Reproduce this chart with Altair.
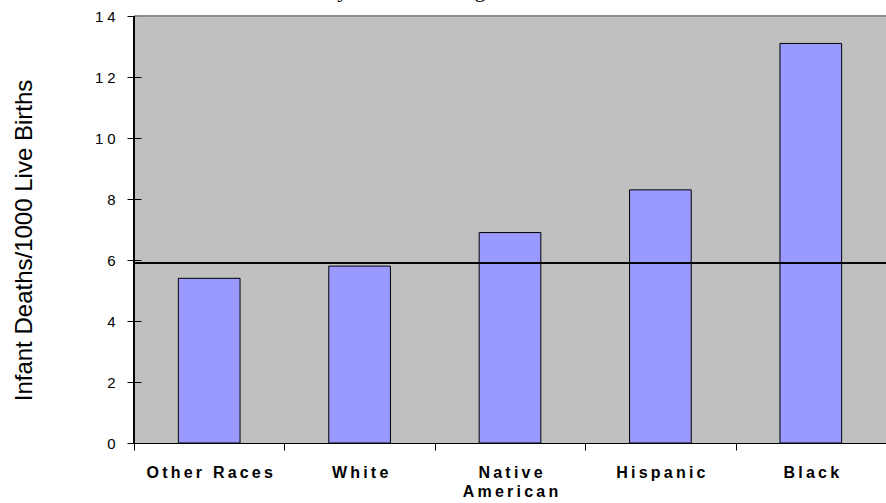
import json
import altair as alt
import pandas as pd

# Infant deaths per 1000 live births by race / ethnicity
categories = ["Other Races", "White", "Native American", "Hispanic", "Black"]
rates = [5.4, 5.8, 6.9, 8.3, 13.1]

# Reference level drawn across the whole plot
overall_rate = 5.9

y_ticks = [0, 2, 4, 6, 8, 10, 12, 14]
y_max = 14

# Category names shown on two lines
label_lines = {"Native American": ["Native", "American"]}

chart_title = "Infant Mortality Rate in Michigan"
y_title = "Infant Deaths/1000 Live Births"

THIN = "\u2009"
DIGIT_GAP = "\u2005"

df = pd.DataFrame({"group": categories, "rate": rates})
title_df = pd.DataFrame({"text": [chart_title]})


def spaced(text):
    return THIN.join(text)


def label_expr():
    expr = "datum.value"
    for name in reversed(categories):
        lines = label_lines.get(name, [name])
        shown = [spaced(s) for s in lines]
        value = json.dumps(shown if len(shown) > 1 else shown[0], ensure_ascii=False)
        expr = f"datum.value == {json.dumps(name)} ? {value} : ({expr})"
    return expr


W, H = 752, 427

x_enc = alt.X(
    "group:N",
    sort=categories,
    scale=alt.Scale(paddingInner=0, paddingOuter=0),
    axis=alt.Axis(
        title=None,
        labelAngle=0,
        labelExpr=label_expr(),
        labelFont="Liberation Sans",
        labelFontWeight="bold",
        labelFontSize=16,
        labelColor="black",
        labelLineHeight=19,
        labelPadding=14,
        tickBand="extent",
        tickSize=7,
        tickColor="black",
        domainColor="black",
        domainWidth=1,
        grid=False,
    ),
)

y_scale = alt.Scale(domain=[0, y_max], nice=False)

y_axis = alt.Axis(
    title=y_title,
    values=y_ticks,
    offset=-7,
    tickSize=14,
    tickColor="black",
    domain=False,
    grid=False,
    labelExpr=f"join(split(datum.label, ''), '{DIGIT_GAP}')",
    labelFont="Liberation Sans",
    labelFontSize=15,
    labelColor="black",
    labelPadding=12,
    titleFont="Liberation Sans",
    titleFontSize=24,
    titleFontWeight="normal",
    titleColor="black",
    titleAngle=270,
    titleAlign="center",
    titleBaseline="alphabetic",
    titleX=-110,
    titleY=224,
)

bars = alt.Chart(df).mark_bar(
    color="#9999FF", stroke="black", strokeWidth=1, width=alt.RelativeBandSize(0.41)
).encode(
    x=x_enc,
    y=alt.Y("rate:Q", scale=y_scale, axis=y_axis),
)

# Thin gray border along the top of the plot area
top_line = alt.Chart(df).mark_rule(color="#8c8c8c", strokeWidth=1).encode(
    y=alt.datum(y_max)
)

# Left axis line
axis_line = alt.Chart(df).mark_rule(color="black", strokeWidth=1.5).encode(
    x=alt.value(0),
    y=alt.datum(0),
    y2=alt.datum(y_max),
)

ref_line = alt.Chart(df).mark_rule(color="black", strokeWidth=1).encode(
    y=alt.datum(overall_rate)
)

# Chart heading, sitting above the plot area
heading = alt.Chart(title_df).mark_text(
    font="Liberation Serif",
    fontSize=22,
    color="black",
    align="left",
    baseline="alphabetic",
).encode(
    text="text:N",
    x=alt.value(73),
    y=alt.value(-19),
)

chart = (
    alt.layer(bars, top_line, ref_line, axis_line, heading)
    .properties(
        width=W,
        height=H,
        autosize=alt.AutoSizeParams(type="none"),
        padding={"left": 134, "top": 16, "right": 0, "bottom": 60},
        background="white",
    )
    .configure_view(fill="#C0C0C0", stroke=None)
)

chart.save("out.html", embed_options={"renderer": "svg", "actions": False})
